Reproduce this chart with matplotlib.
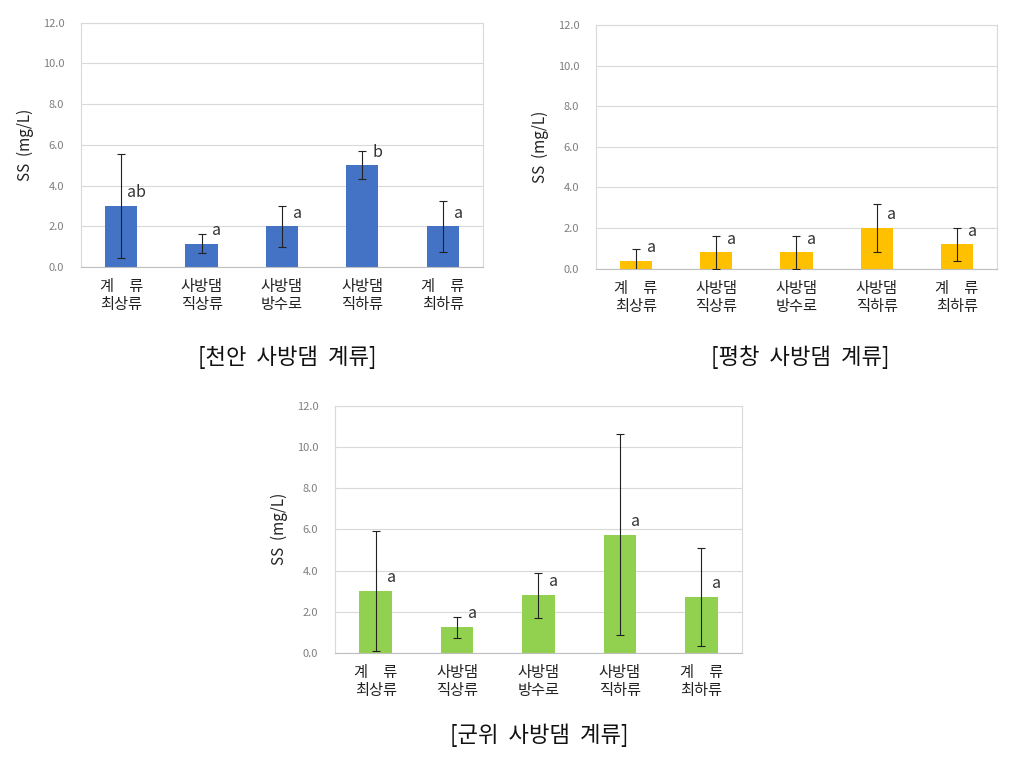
import matplotlib.pyplot as plt
import numpy as np

plt.rcParams['font.family'] = ['Noto Sans CJK KR', 'DejaVu Sans']

# categories (x tick labels)
categories = ['계\u3000류\n최상류', '사방댐\n직상류', '사방댐\n방수로', '사방댐\n직하류', '계\u3000류\n최하류']

# 천안
cheonan_mean = [3.0, 1.15, 2.0, 5.0, 2.0]
cheonan_err = [2.55, 0.45, 1.0, 0.7, 1.25]
cheonan_sig = ['ab', 'a', 'a', 'b', 'a']

# 평창
pyeongchang_mean = [0.4, 0.8, 0.8, 2.0, 1.2]
pyeongchang_err = [0.55, 0.8, 0.8, 1.2, 0.82]
pyeongchang_sig = ['a', 'a', 'a', 'a', 'a']

# 군위
gunwi_mean = [3.0, 1.25, 2.8, 5.74, 2.72]
gunwi_err = [2.9, 0.5, 1.1, 4.87, 2.37]
gunwi_sig = ['a', 'a', 'a', 'a', 'a']

yticks = [0, 2, 4, 6, 8, 10, 12]

fig = plt.figure(figsize=(10.26, 7.7), dpi=100)


def draw_panel(rect, mean, err, sig, color, caption, cap_xy):
    ax = fig.add_axes(rect)
    x = np.arange(len(categories))
    ax.set_axisbelow(True)
    ax.yaxis.grid(True, color='#d9d9d9', linewidth=0.8)
    ax.bar(x, mean, width=0.4, color=color, zorder=2)
    ax.errorbar(x, mean, yerr=err, fmt='none', ecolor='#222222',
                elinewidth=0.8, capsize=3, capthick=0.8, zorder=3)
    for xi, m, s in zip(x, mean, sig):
        ax.text(xi + 0.19, m + 0.65, s, ha='center', va='center',
                fontsize=11.5, color='#333333', zorder=4)
    ax.set_xlim(-0.5, 4.5)
    ax.set_ylim(0, 12)
    ax.set_yticks(yticks)
    ax.set_yticklabels([f'{v:.1f}' for v in yticks], fontsize=8,
                       color='#7f7f7f')
    ax.set_xticks(x)
    ax.set_xticklabels(categories, fontsize=11, color='#222222',
                       linespacing=1.1)
    ax.tick_params(axis='both', length=0)
    ax.tick_params(axis='x', pad=8)
    ax.tick_params(axis='y', pad=12)
    for sp in ['left', 'right', 'top']:
        ax.spines[sp].set_color('#d9d9d9')
        ax.spines[sp].set_linewidth(0.8)
    ax.spines['bottom'].set_color('#bfbfbf')
    ax.spines['bottom'].set_linewidth(0.8)
    ax.set_ylabel('SS  (mg/L)', fontsize=11, color='#222222', labelpad=6)
    fig.text(cap_xy[0], cap_xy[1], caption, ha='center', va='center',
             fontsize=16, color='#111111')
    return ax


draw_panel([0.0789, 0.6532, 0.3918, 0.3173], cheonan_mean, cheonan_err,
           cheonan_sig, '#4472C4', '[천안  사방댐  계류]',
           (287 / 1026, 1 - 357 / 770))
draw_panel([0.5809, 0.651, 0.3908, 0.3165], pyeongchang_mean, pyeongchang_err,
           pyeongchang_sig, '#FFC000', '[평창  사방댐  계류]',
           (800 / 1026, 1 - 357 / 770))
draw_panel([0.3265, 0.152, 0.3967, 0.3212], gunwi_mean, gunwi_err,
           gunwi_sig, '#92D050', '[군위  사방댐  계류]',
           (539 / 1026, 1 - 735 / 770))

fig.savefig('out.png', dpi=100)
